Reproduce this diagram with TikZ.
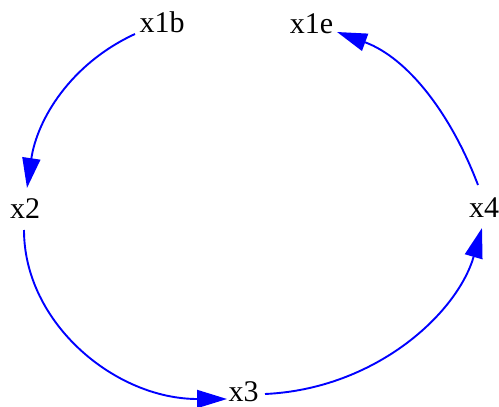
\documentclass[tikz,border=0pt]{standalone}
\usepackage{fontspec}
\setmainfont{Liberation Serif}
\usetikzlibrary{arrows.meta,calc}
\begin{document}
\begin{tikzpicture}[x=1pt,y=-1pt,
  lbl/.style={anchor=base,inner sep=0pt,font=\fontsize{30}{36}\selectfont},
  edge/.style={draw=blue,line width=1.9pt,-{Triangle[length=30pt,width=18pt]},fill=none}]
\useasboundingbox (0,0) rectangle (499,407);
\node[lbl] (x1b) at (162,32) {x1b};
\node[lbl] (x1e) at (311.5,33) {x1e};
\node[lbl] (x2) at (25,218) {x2};
\node[lbl] (x4) at (484,217) {x4};
\node[lbl] (x3) at (243.5,401) {x3};
\draw[edge] ($(x1b.base)+(-27,2)$) .. controls (70,64) and (37,120) .. ($(x2.base)+(2,-30)$);
\draw[edge] ($(x2.base)+(-1,12)$) .. controls (24,323) and (115,399) .. ($(x3.base)+(-16.5,-2)$);
\draw[edge] ($(x3.base)+(21.5,-7)$) .. controls (375,389) and (457,314) .. ($(x4.base)+(-2,11)$);
\draw[edge] ($(x4.base)+(-6,-32)$) .. controls (451,114) and (408,58) .. ($(x1e.base)+(25.5,-1)$);
\end{tikzpicture}
\end{document}
